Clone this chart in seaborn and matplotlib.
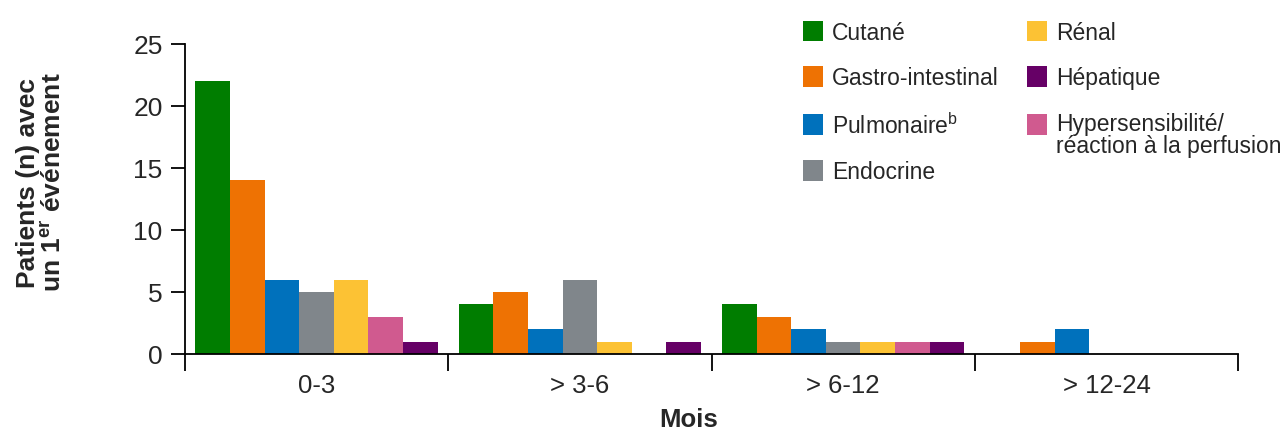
import pandas as pd
import numpy as np
import matplotlib
matplotlib.use("Agg")
import matplotlib.pyplot as plt
import matplotlib.patches as mpatches
import seaborn as sns

# ---------------donnees------------------
periodes = ['0-3', '> 3-6', '> 6-12', '> 12-24']

cutane = [22, 4, 4, 0]
gastro = [14, 5, 3, 1]
pulmonaire = [6, 2, 2, 2]
endocrine = [5, 6, 1, 0]
renal = [6, 1, 1, 0]
hypersens = [3, 0, 1, 0]
hepatique = [1, 1, 1, 0]

noms = ['Cutané', 'Gastro-intestinal', 'Pulmonaire$^{\\mathregular{b}}$', 'Endocrine',
        'Rénal', 'Hypersensibilité/\nréaction à la perfusion', 'Hépatique']
couleurs = ['#007D00', '#EE7203', '#0071BC', '#80868B', '#FCC234', '#D05A8F', '#660066']

valeurs = [cutane, gastro, pulmonaire, endocrine, renal, hypersens, hepatique]
#------------------------------------------

filas = []
for nom, vals in zip(noms, valeurs):
    for p, v in zip(periodes, vals):
        filas.append({'periode': p, 'categorie': nom, 'n': v})
df = pd.DataFrame(filas)

sns.set_style('white')
plt.rcParams['font.family'] = ['Liberation Sans', 'DejaVu Sans']
plt.rcParams['mathtext.fontset'] = 'custom'
plt.rcParams['mathtext.rm'] = 'Liberation Sans'
plt.rcParams['mathtext.bf'] = 'Liberation Sans:bold'

fig = plt.figure(figsize=(12.87, 4.35), dpi=100)
ax = fig.add_axes([0.1437, 0.184, 0.8183, 0.7126])

sns.barplot(data=df, x='periode', y='n', hue='categorie', order=periodes,
            hue_order=noms, palette=couleurs, width=0.92, gap=0,
            saturation=1, linewidth=0, legend=False, ax=ax)

ax.set_xlim(-0.5, 3.5)
ax.set_ylim(0, 25)
ax.set_yticks([0, 5, 10, 15, 20, 25])

sns.despine(ax=ax)
for s in ['left', 'bottom']:
    ax.spines[s].set_color('black')
    ax.spines[s].set_linewidth(1.3)

ax.tick_params(axis='y', direction='out', length=10, width=1.3, pad=6,
               labelsize=19, left=True, color='black')
ax.tick_params(axis='x', which='major', length=0, pad=14, labelsize=18.5)
ax.set_xticks([-0.5, 0.5, 1.5, 2.5, 3.5], minor=True)
ax.tick_params(axis='x', which='minor', direction='out', length=12, width=1.3,
               bottom=True, color='black')

ax.set_xlabel('Mois', fontsize=18.5, fontweight='bold')
ax.xaxis.set_label_coords(0.478, -0.17)
ax.set_ylabel('Patients (n) avec\nun 1$^{\\mathbf{er}}$ événement',
              fontsize=19, fontweight='bold', linespacing=1.05)
ax.yaxis.set_label_coords(-0.113, 0.556)

# legende en deux colonnes, ordre de l'original
ordre = [0, 1, 2, 3, 4, 6, 5]
handles = [mpatches.Patch(color=couleurs[i], linewidth=0) for i in ordre]
labels = [noms[i] for i in ordre]
leg = fig.legend(handles, labels, loc='upper left', bbox_to_anchor=(0.624, 0.95),
                 ncol=2, frameon=False, fontsize=16.5, handlelength=0.86,
                 handleheight=1.0, handletextpad=0.4, columnspacing=1.25,
                 labelspacing=0.98, borderpad=0, borderaxespad=0)
for t in leg.get_texts():
    t.set_linespacing(0.95)
# carre de la derniere entree sur la premiere ligne du texte
h = leg.legend_handles[6]
h.set_y(h.get_y() + 8)

plt.savefig('out.png', dpi=100)
